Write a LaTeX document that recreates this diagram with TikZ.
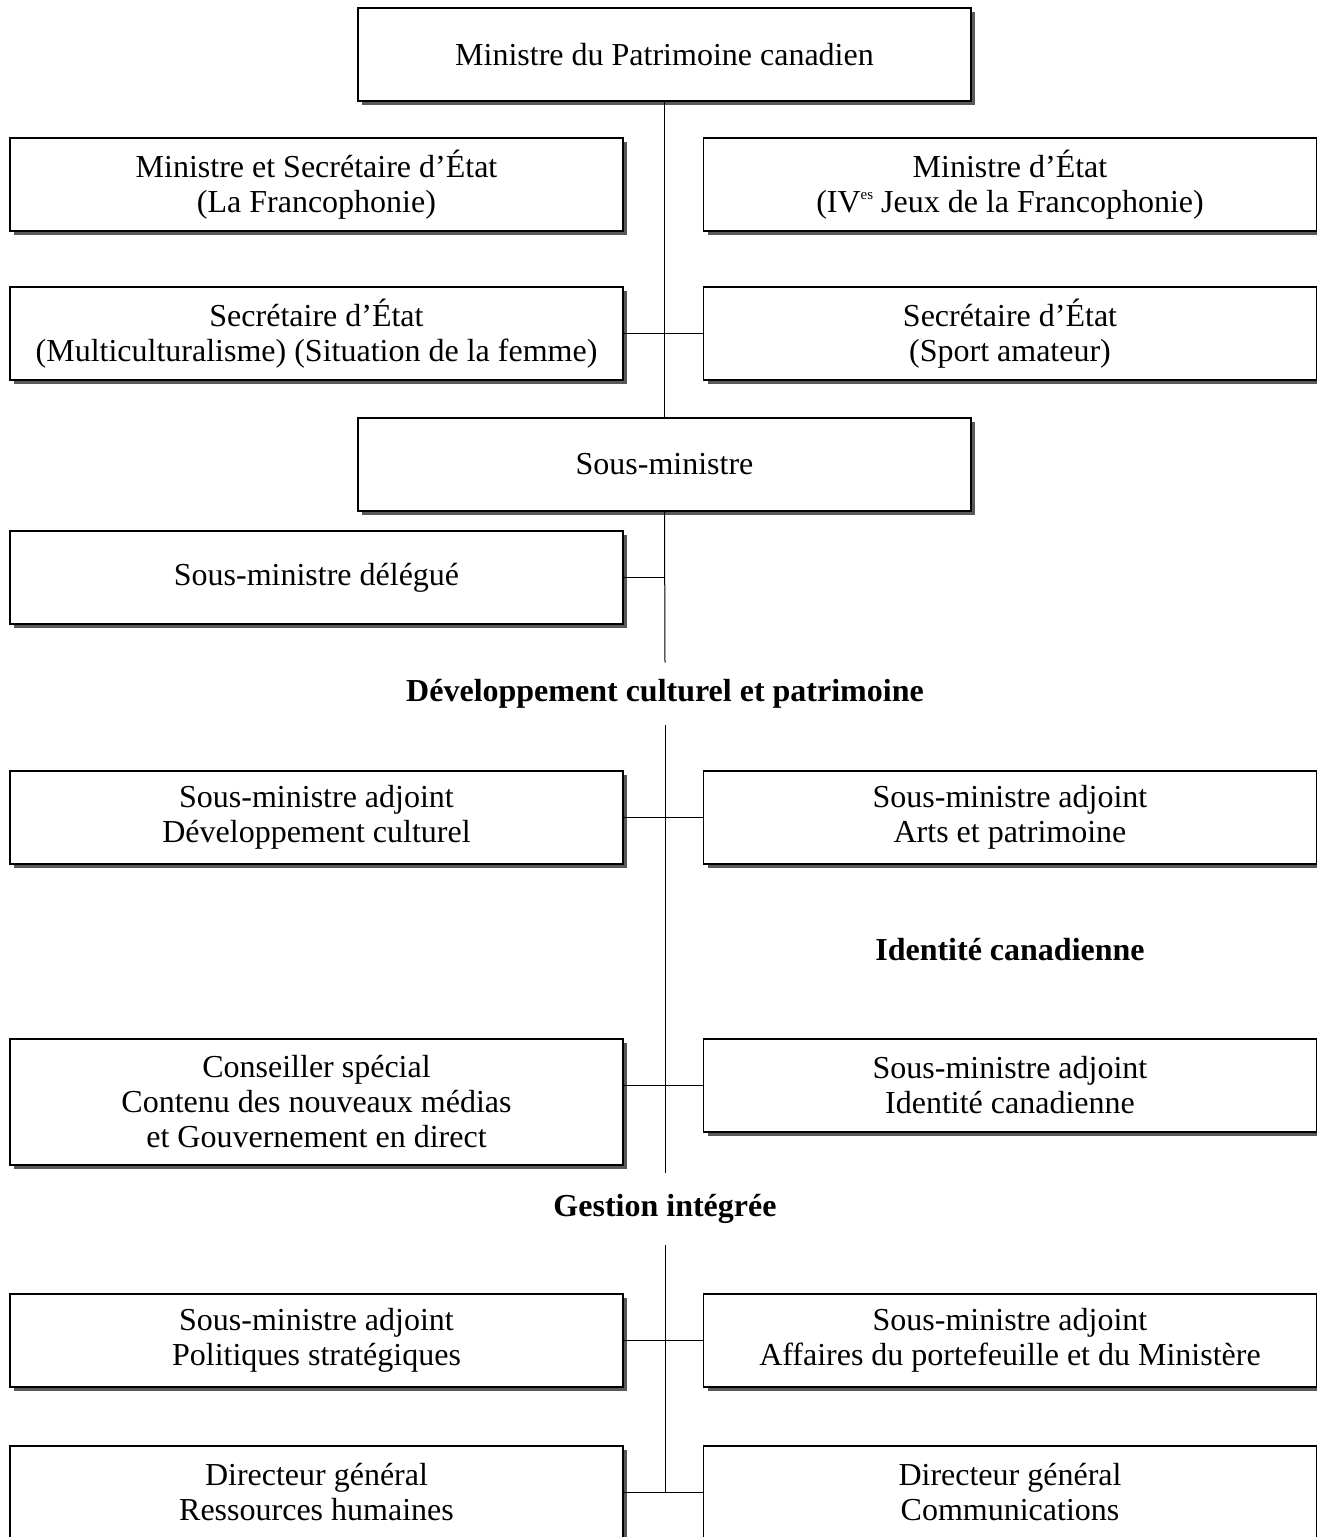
\documentclass[tikz,border=0pt]{standalone}
\usepackage{fontspec}
\setmainfont{Liberation Serif}
\usetikzlibrary{shadows}

\begin{document}
\begin{tikzpicture}[x=0.5pt, y=-0.5pt,
  orgbox/.style={rectangle, draw=black, line width=0.7pt, fill=white,
    minimum width=306.5pt, minimum height=46.5pt, align=center,
    font=\fontsize{16}{17.5}\selectfont,
    drop shadow={shadow xshift=2pt, shadow yshift=-2pt, fill=black!65, opacity=1}},
  heading/.style={font=\fontsize{16}{17.5}\selectfont\bfseries, inner sep=0pt},
  spine/.style={line width=0.5pt},
  link/.style={line width=0.6pt}]
\useasboundingbox (0,0) rectangle (1317,1537);

\node[orgbox] (min) at (664.5,54.5) {Ministre du Patrimoine canadien};

\node[orgbox] (msef) at (316.5,184.5) {Ministre et Secrétaire d'État\\(La Francophonie)};
\node[orgbox] (mejf) at (1010,184.5) {Ministre d'État\\(IV\raisebox{0.9ex}{\fontsize{7.5}{8}\selectfont es} Jeux de la Francophonie)};

\node[orgbox] (semf) at (316.5,333.5) {Secrétaire d'État\\(Multiculturalisme) (Situation de la femme)};
\node[orgbox] (sesa) at (1010,333.5) {Secrétaire d'État\\(Sport amateur)};

\node[orgbox] (sm) at (664.5,464.5) {Sous-ministre};
\node[orgbox] (smd) at (316.5,577.5) {Sous-ministre délégué};

\node[heading, minimum height=31pt] (dcp) at (665,694) {Développement culturel et patrimoine};

\node[orgbox] (smadc) at (316.5,817.5) {Sous-ministre adjoint\\Développement culturel};
\node[orgbox] (smaap) at (1010,817.5) {Sous-ministre adjoint\\Arts et patrimoine};

\node[heading] (idc) at (1010,950) {Identité canadienne};

\node[orgbox, minimum height=63pt] (csp) at (316.5,1102) {Conseiller spécial\\Contenu des nouveaux médias\\et Gouvernement en direct};
\node[orgbox] (smaic) at (1010,1085.5) {Sous-ministre adjoint\\Identité canadienne};

\node[heading, minimum height=36pt] (gi) at (665,1209) {Gestion intégrée};

\node[orgbox] (smaps) at (316.5,1340.5) {Sous-ministre adjoint\\Politiques stratégiques};
\node[orgbox] (smaafp) at (1010,1340.5) {Sous-ministre adjoint\\Affaires du portefeuille et du Ministère};

\node[orgbox] (dgrh) at (316.5,1492.5) {Directeur général\\Ressources humaines};
\node[orgbox] (dgc) at (1010,1492.5) {Directeur général\\Communications};

% spine
\coordinate (last) at (dgc.west -| dcp.south);
\draw[spine] (min.south) -- (sm.north);
\draw[spine] (sm.south) -- (dcp.north);
\draw[spine] (dcp.south) -- (gi.north);
\draw[spine] (gi.south) -- (last);

% links
\draw[link] (semf.east) -- (sesa.west);
\draw[link] (smd.east) -- (smd.east -| dcp.north);
\draw[link] (smadc.east) -- (smaap.west);
\draw[link] (smaic.west) -- (smaic.west -| csp.east);
\draw[link] (smaps.east) -- (smaafp.west);
\draw[link] (dgrh.east) -- (dgc.west);
\end{tikzpicture}
\end{document}
